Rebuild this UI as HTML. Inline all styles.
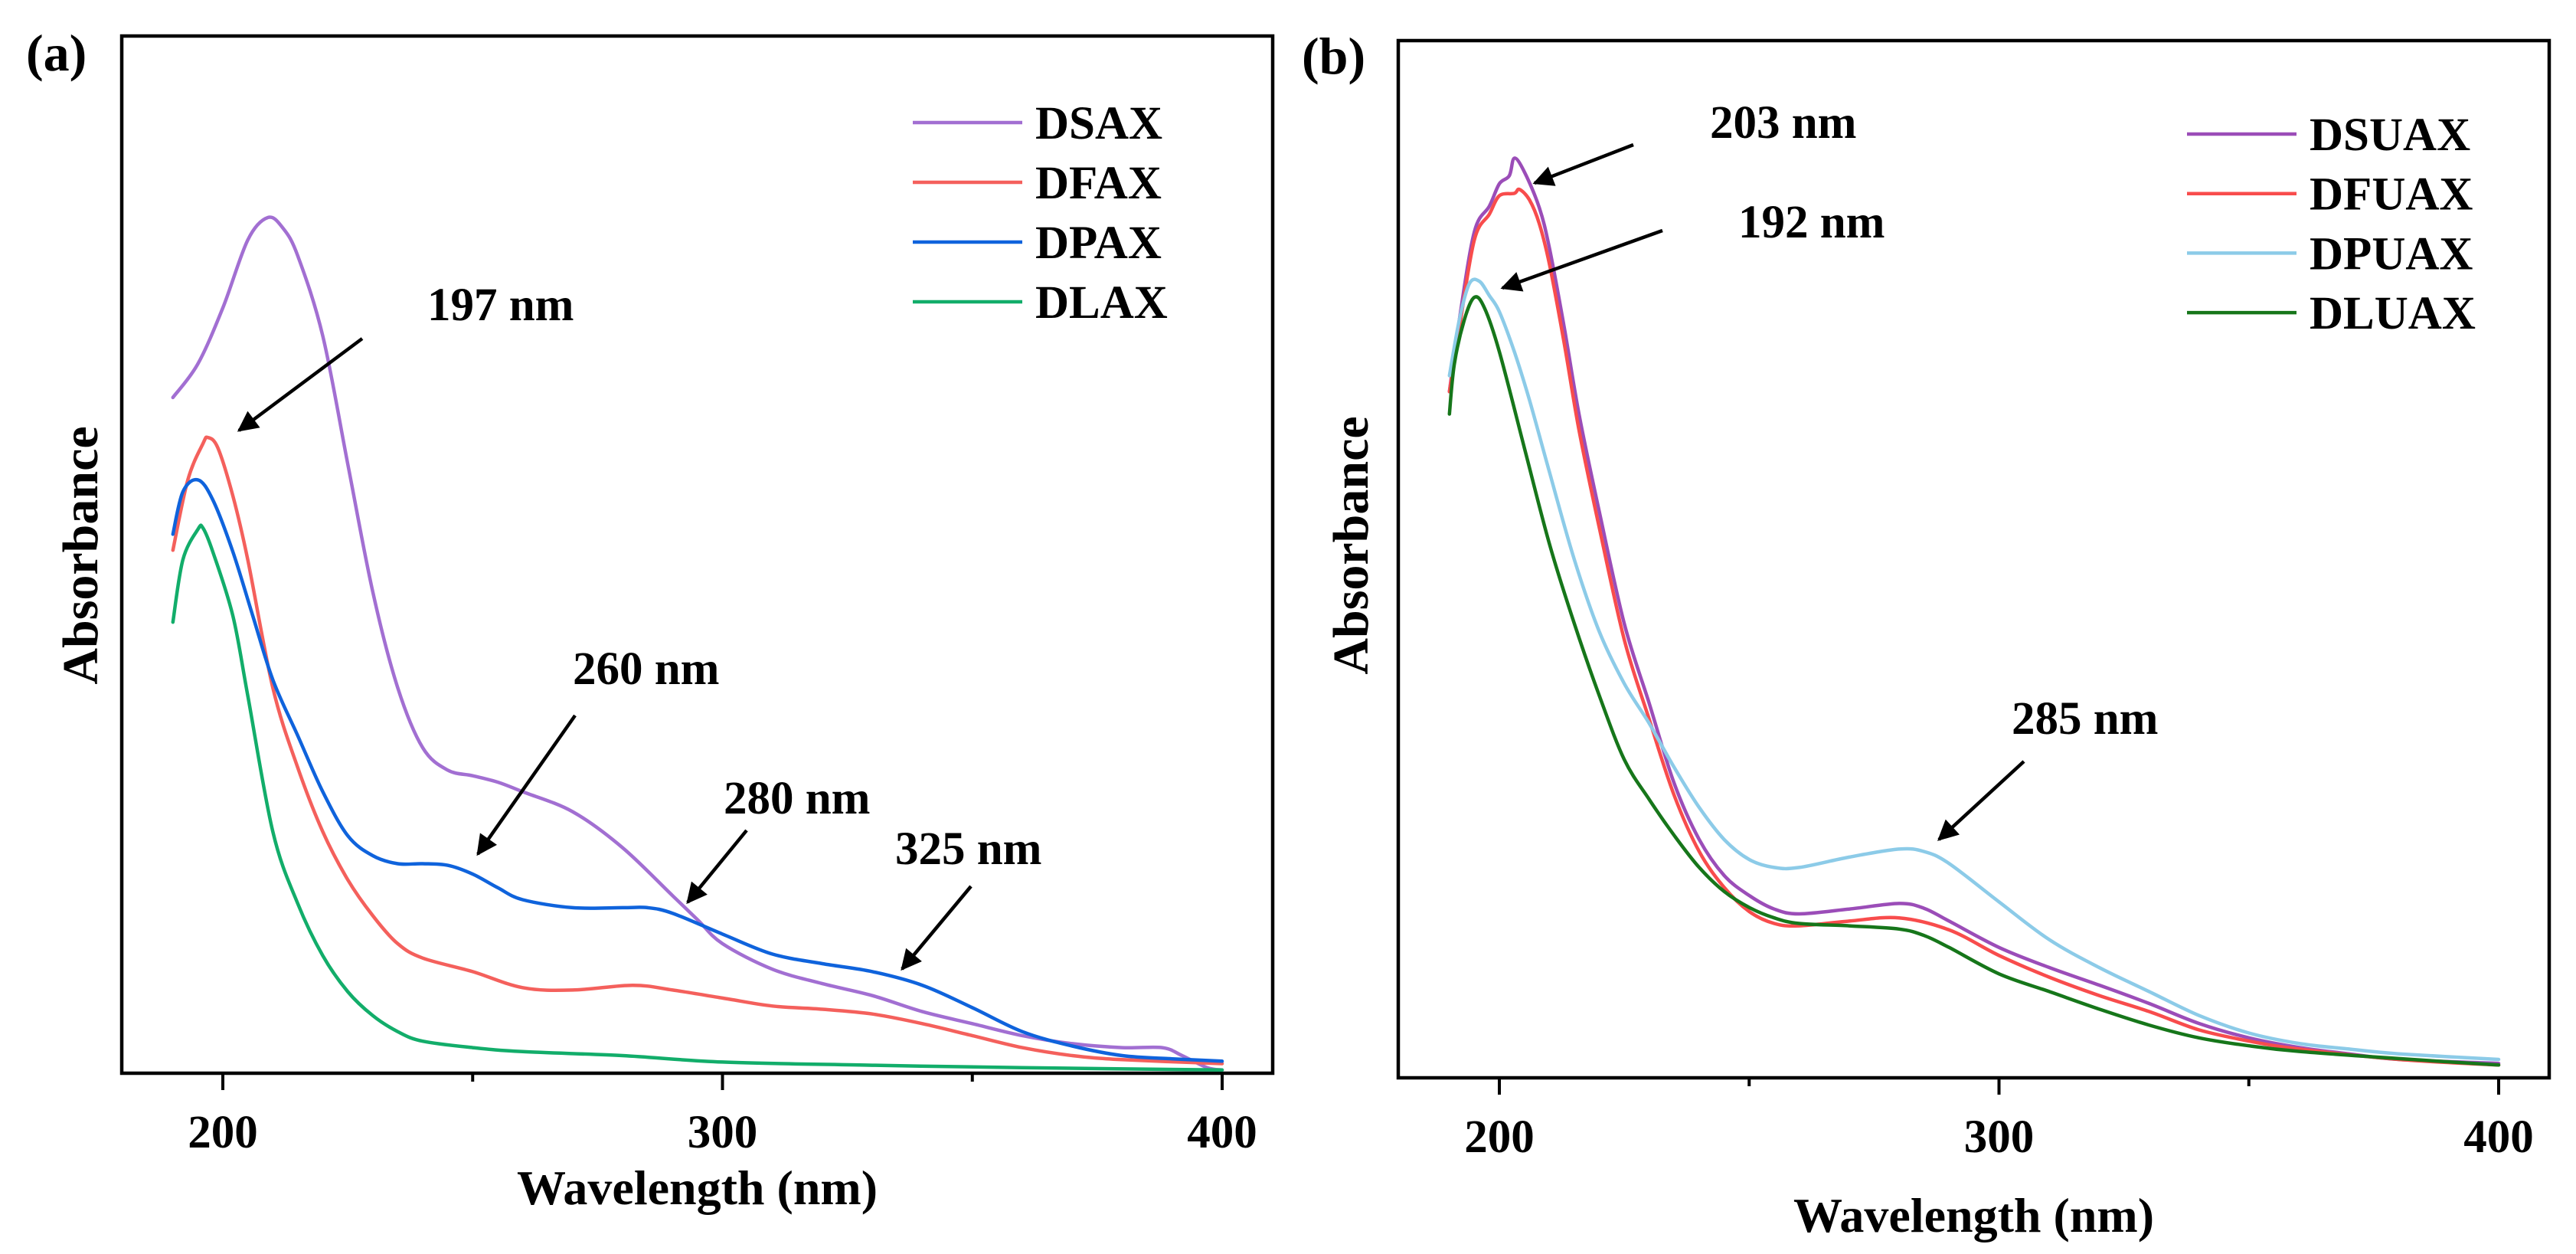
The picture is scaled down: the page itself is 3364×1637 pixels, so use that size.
<!DOCTYPE html>
<html><head><meta charset="utf-8">
<style>
html,body{margin:0;padding:0;background:#fff;}
svg{display:block;}
text{font-family:"Liberation Serif",serif;font-weight:bold;fill:#000;}
</style></head>
<body>
<svg id="chart" width="3364" height="1637" viewBox="0 0 3364 1637" xmlns="http://www.w3.org/2000/svg">
<defs>
<marker id="ah" viewBox="0 0 10 10" refX="9" refY="5" markerWidth="7" markerHeight="6" orient="auto" markerUnits="strokeWidth">
<path d="M0,0 L10,5 L0,10 Z" fill="#000"/>
</marker>
</defs>
<g id="pa"></g>
<g id="pb"></g>
</svg>
<script>
// ---- Panel (a) data ----
const wlDSAX = [190,195,200,205,209,212,215,220,225,230,235,240,245,250,255,260,270,280,290,295,300,310,320,330,340,350,360,370,380,388,392,397,400];
const absDSAX = [845,887,957,1042,1070,1057,1022,922,762,602,482,407,379,372,364,352,327,282,222,192,162,130,112,97,77,62,47,37,32,32,22,7,4];
const wlDFAX = [190,193,196,197,199,202,205,210,215,220,225,230,235,240,250,260,270,282,290,300,310,320,330,340,350,360,370,380,400];
const absDFAX = [654,742,787,795,782,722,642,482,382,302,242,197,162,144,127,107,104,110,104,94,84,80,74,62,47,32,22,17,12];
const wlDPAX = [190,192,195,198,202,206,210,215,220,225,230,235,240,245,250,255,260,270,280,285,290,300,310,320,330,340,350,360,370,380,390,400];
const absDPAX = [674,727,742,717,652,572,492,422,352,297,272,262,262,260,249,232,217,207,207,207,200,174,149,137,127,110,82,52,34,22,18,15];
const wlDLAX = [190,192,195,196,198,202,205,210,215,220,225,230,235,240,250,260,280,300,330,360,400];
const absDLAX = [564,642,680,682,652,572,472,302,212,147,102,72,52,40,32,27,22,14,10,7,4];
// ---- Panel (b) data ----
const wlDSUAX = [190,192,195,198,200,202,203,205,208,210,213,216,220,225,230,235,240,245,250,255,260,270,280,285,290,300,310,320,330,340,350,360,370,380,400];
const absDSUAX = [858,948,1058,1090,1118,1128,1150,1133,1088,1038,938,828,708,568,468,368,298,253,228,211,205,211,218,212,196,163,138,116,93,68,50,38,30,23,18];
const wlDFUAX = [190,192,195,198,200,203,204,206,208,210,213,216,220,225,230,235,240,245,250,255,260,270,280,290,300,310,320,330,340,350,360,380,400];
const absDFUAX = [858,938,1048,1080,1103,1106,1111,1098,1068,1018,918,808,688,548,448,353,283,238,208,193,190,196,200,185,153,126,103,83,60,46,36,23,16];
const wlDPUAX = [190,192,194,196,198,200,203,206,210,215,220,225,230,235,240,245,250,255,260,270,280,285,290,300,310,320,330,340,350,360,370,380,400];
const absDPUAX = [878,948,993,996,978,958,908,848,758,648,558,493,443,388,338,298,273,263,263,276,286,283,268,220,173,138,108,78,56,43,36,30,23];
const wlDLUAX = [190,191,193,195,197,200,205,210,215,220,225,230,235,240,245,250,255,260,270,280,285,290,300,310,320,330,340,350,360,380,400];
const absDLUAX = [830,893,948,976,963,908,788,668,568,478,398,348,303,263,233,213,200,193,190,186,178,163,130,108,86,66,50,40,33,24,16];
const xTicks = [200,300,400];
const xMinorTicks = [250,350];
const xTickLabels = ["200","300","400"];
const legendA = ["DSAX","DFAX","DPAX","DLAX"];
const legendB = ["DSUAX","DFUAX","DPUAX","DLUAX"];

const NS = "http://www.w3.org/2000/svg";
function mk(parent, tag, attrs, txt){
  const e = document.createElementNS(NS, tag);
  for (const k in attrs) e.setAttribute(k, attrs[k]);
  if (txt !== undefined) e.textContent = txt;
  parent.appendChild(e);
  return e;
}
function smoothPath(p){
  let d = "M" + p[0][0].toFixed(1) + "," + p[0][1].toFixed(1);
  for (let i = 0; i < p.length - 1; i++){
    const p0 = p[Math.max(0, i-1)], p1 = p[i], p2 = p[i+1], p3 = p[Math.min(p.length-1, i+2)];
    const c1x = p1[0] + (p2[0]-p0[0])/6, c1y = p1[1] + (p2[1]-p0[1])/6;
    const c2x = p2[0] - (p3[0]-p1[0])/6, c2y = p2[1] - (p3[1]-p1[1])/6;
    d += " C" + c1x.toFixed(1) + "," + c1y.toFixed(1) + " " + c2x.toFixed(1) + "," + c2y.toFixed(1) + " " + p2[0].toFixed(1) + "," + p2[1].toFixed(1);
  }
  return d;
}

function panel(g, P, series, legendNames, letter, notes){
  const xs = v => P.x200 + (v - 200) * P.kx;
  const ys = v => P.bottom - v * (P.bottom - P.top) / 1297;
  const fr = mk(g, "rect", {x:P.left, y:P.top, width:P.right-P.left, height:P.bottom-P.top, fill:"none", stroke:"#000", "stroke-width":4.5});
  
  
  xTicks.forEach((t, i) => {
    const tk = mk(g, "line", {x1:xs(t), x2:xs(t), y1:P.bottom, y2:P.bottom+22, stroke:"#000", "stroke-width":4});
    
    
    const lb = mk(g, "text", {x:xs(t), y:P.bottom+97, "text-anchor":"middle", "font-size":61}, xTickLabels[i]);
    
    
  });
  xMinorTicks.forEach(t => {
    const tk = mk(g, "line", {x1:xs(t), x2:xs(t), y1:P.bottom, y2:P.bottom+11, stroke:"#000", "stroke-width":4});
    
    
  });
  series.forEach(s => {
    const pts = s.wl.map((w, i) => [xs(w), ys(s.v[i])]);
    const pl = mk(g, "path", {d:smoothPath(pts), fill:"none", stroke:s.c, "stroke-width":4.5, "stroke-linejoin":"round", "stroke-linecap":"round"});
    
    
  });
  series.forEach((s, i) => {
    const y = P.legY + i * P.legDy;
    const ln = mk(g, "line", {x1:P.legX, x2:P.legX+143, y1:y, y2:y, stroke:s.c, "stroke-width":4.5});
    
    
    const tx = mk(g, "text", {x:P.legX+160, y:y+21, "font-size":61}, legendNames[i]);
    
    
  });
  const xt = mk(g, "text", {x:(P.left+P.right)/2, y:P.xTitleY, "text-anchor":"middle", "font-size":64}, "Wavelength (nm)");
  
  
  const yt = mk(g, "text", {x:0, y:0, "text-anchor":"middle", "font-size":66, transform:"translate(" + P.yTitleX + "," + P.yTitleY + ") rotate(-90)"}, "Absorbance");
  
  
  const pl = mk(g, "text", {x:P.letX, y:P.letY, "font-size":68}, letter);
  
  
  notes.forEach(n => {
    const t = mk(g, "text", {x:n.tx, y:n.ty, "font-size":61}, n.t);
    
    
    const a = mk(g, "line", {x1:n.a[0], y1:n.a[1], x2:n.a[2], y2:n.a[3], stroke:"#000", "stroke-width":4.5, "marker-end":"url(#ah)"});
    
    
  });
}

panel(document.getElementById("pa"),
  {left:159, top:47, right:1662, bottom:1401, x200:291, kx:6.525, legX:1192, legY:160, legDy:78,
   xTitleY:1572, yTitleX:127, yTitleY:725, letX:34, letY:92},
  [{n:"DSAX", wl:wlDSAX, v:absDSAX, c:"#a26fd2"},
   {n:"DFAX", wl:wlDFAX, v:absDFAX, c:"#f4605c"},
   {n:"DPAX", wl:wlDPAX, v:absDPAX, c:"#0f63dc"},
   {n:"DLAX", wl:wlDLAX, v:absDLAX, c:"#12ad6a"}],
  legendA, "(a)",
  [{t:"197 nm", tx:558, ty:418, a:[473,442,312,562]},
   {t:"260 nm", tx:748, ty:893, a:[751,934,624,1115]},
   {t:"280 nm", tx:945, ty:1062, a:[975,1084,898,1178]},
   {t:"325 nm", tx:1169, ty:1128, a:[1268,1157,1178,1265]}]);

panel(document.getElementById("pb"),
  {left:1826, top:53, right:3329, bottom:1407, x200:1958, kx:6.525, legX:2856, legY:175, legDy:77.7,
   xTitleY:1608, yTitleX:1786, yTitleY:712, letX:1700, letY:96},
  [{n:"DSUAX", wl:wlDSUAX, v:absDSUAX, c:"#9b4db8"},
   {n:"DFUAX", wl:wlDFUAX, v:absDFUAX, c:"#f84c4c"},
   {n:"DPUAX", wl:wlDPUAX, v:absDPUAX, c:"#8ccbe8"},
   {n:"DLUAX", wl:wlDLUAX, v:absDLUAX, c:"#16761a"}],
  legendB, "(b)",
  [{t:"203 nm", tx:2233, ty:180, a:[2133,189,2004,239]},
   {t:"192 nm", tx:2270, ty:310, a:[2171,301,1962,376]},
   {t:"285 nm", tx:2627, ty:958, a:[2643,994,2532,1096]}]);
</script>
</body></html>
